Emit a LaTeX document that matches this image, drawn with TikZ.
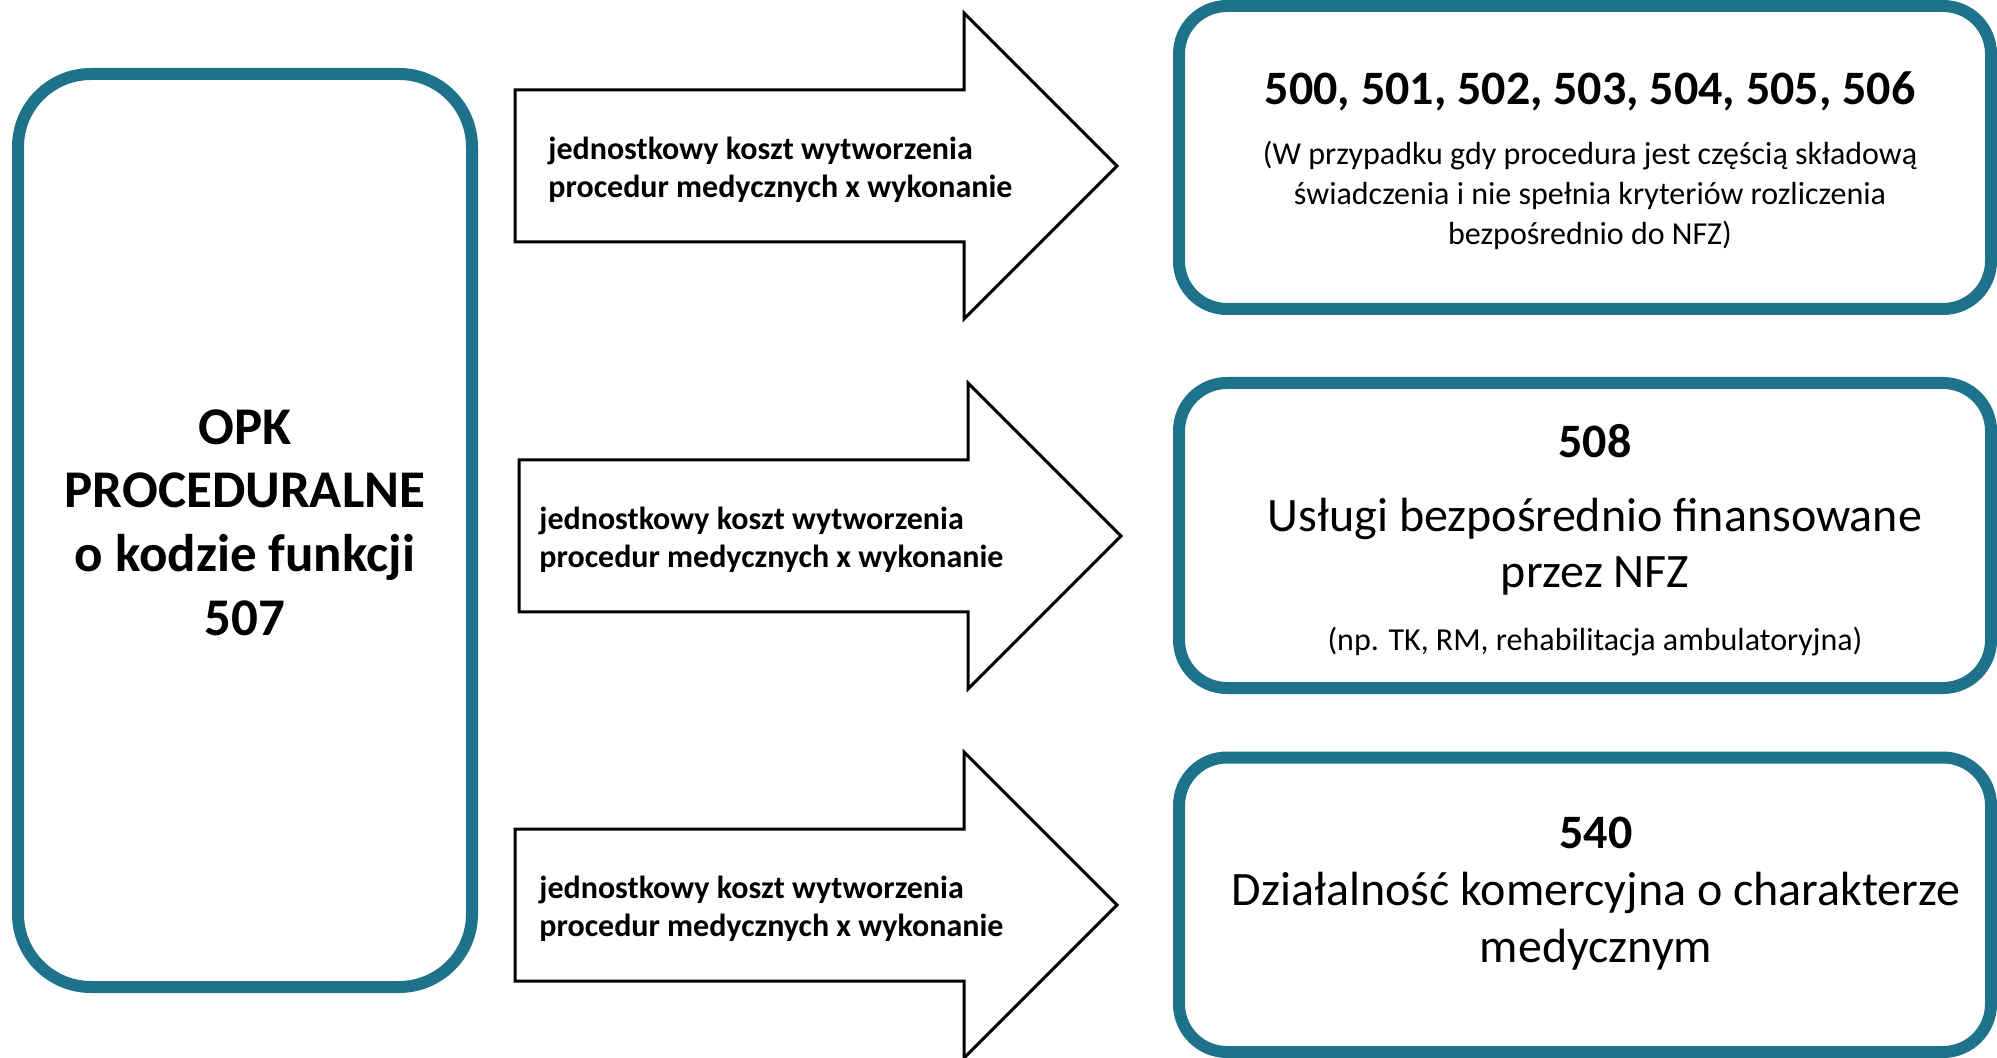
\documentclass[tikz,border=0pt]{standalone}
\usepackage{fontspec}
\setmainfont{Carlito}
\definecolor{morski}{RGB}{31,114,140}
\tikzset{
  ramka/.style={draw=morski, line width=6pt, fill=white, rounded corners=24pt, inner sep=0pt},
  strzalka/.style={draw=black, line width=1.5pt, fill=white, line join=miter},
  napis/.style={inner sep=0pt, anchor=base, align=center},
  opis/.style={inner sep=0pt, anchor=west, align=left, font=\bfseries\fontsize{16}{19}\selectfont},
}
\begin{document}
\begin{tikzpicture}[x=0.5pt,y=-0.5pt]
    \useasboundingbox (0,0) rectangle (1997,1058);
    \clip (0,0) rectangle (1997,1058);
    \fill[white] (0,0) rectangle (1997,1058);

    % Prostokat OPK po lewej
    \node[ramka, rounded corners=36.5pt, minimum width=227pt, minimum height=456.5pt] (opk) at (245,530.5) {};
    \node[napis, font=\bfseries\fontsize{26.5}{31.75}\selectfont] (opkTekst) at (245,635)
        {OPK\\PROCEDURALNE\\o kodzie funkcji\\507};

    % Ramki po prawej
    \node[ramka, minimum width=406pt, minimum height=151.5pt] (kody) at (1585,157.5) {};
    \node[ramka, minimum width=406pt, minimum height=152.5pt] (nfz) at (1585,535.5) {};
    \node[ramka, minimum width=406pt, minimum height=147.25pt] (komerc) at (1585,904.75) {};

    % 500 - 506
    \node[napis, font=\bfseries\fontsize{24}{29}\selectfont] (kodyNr) at (1590,105)
        {500, 501, 502, 503, 504, 505, 506};
    \node[napis, font=\fontsize{16}{20}\selectfont] (kodyOpis) at (1590,245)
        {(W przypadku gdy procedura jest częścią składową\\świadczenia i nie spełnia kryteriów rozliczenia\\bezpośrednio do NFZ)};

    % 508
    \node[napis, font=\bfseries\fontsize{24}{29}\selectfont] (nfzNr) at (1595,458) {508};
    \node[napis, font=\fontsize{24}{28}\selectfont] (nfzOpis) at (1595,588)
        {Usługi bezpośrednio finansowane\\przez NFZ};
    \node[napis, font=\fontsize{16}{20}\selectfont] (nfzPrzyklad) at (1595,650)
        {(np. TK, RM, rehabilitacja ambulatoryjna)};

    % 540
    \node[napis, font=\bfseries\fontsize{24}{29}\selectfont] (komercNr) at (1596,848) {540};
    \node[napis, font=\fontsize{24}{28.5}\selectfont] (komercOpis) at (1596,962)
        {Działalność komercyjna o charakterze\\medycznym};

    % Strzalki z opisem
    \foreach \x/\y/\t/\n in {515/166/33/1, 519/536/20/2, 515/905/24/3} {
        \draw[strzalka] (\x,\y-76) -- (\x+449,\y-76) -- (\x+449,\y-153) -- (\x+602,\y)
            -- (\x+449,\y+153) -- (\x+449,\y+76) -- (\x,\y+76) -- cycle;
        \node[opis] (opis\n) at (\x+\t,\y+4)
            {jednostkowy koszt wytworzenia\\procedur medycznych x wykonanie};
    }
\end{tikzpicture}
\end{document}
